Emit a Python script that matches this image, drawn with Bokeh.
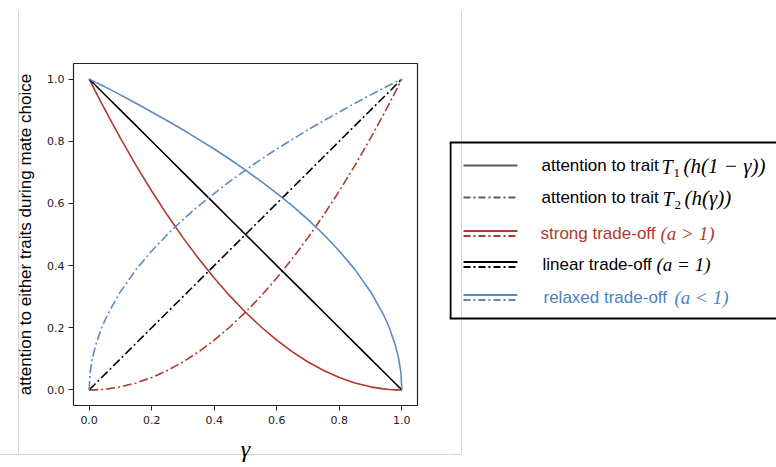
from bokeh.plotting import figure
from bokeh.layouts import row
from bokeh.models import Range1d, FixedTicker, ColumnDataSource
from bokeh.core.properties import value
from bokeh.embed import file_html
from bokeh.resources import INLINE

# ---- data ----
gamma = [0, 0.003, 0.01, 0.02, 0.04, 0.06, 0.1, 0.15, 0.2, 0.25, 0.3, 0.35, 0.4, 0.45, 0.5,
         0.55, 0.6, 0.65, 0.7, 0.75, 0.8, 0.85, 0.9, 0.94, 0.96, 0.98, 0.99, 0.997, 1.0]

strong_t1 = [1.0, 0.994, 0.9801, 0.9604, 0.9216, 0.8836, 0.81, 0.7225, 0.64, 0.5625, 0.49, 0.4225,
             0.36, 0.3025, 0.25, 0.2025, 0.16, 0.1225, 0.09, 0.0625, 0.04, 0.0225, 0.01, 0.0036,
             0.0016, 0.0004, 0.0001, 0.0, 0.0]
strong_t2 = [0.0, 0.0, 0.0001, 0.0004, 0.0016, 0.0036, 0.01, 0.0225, 0.04, 0.0625, 0.09, 0.1225,
             0.16, 0.2025, 0.25, 0.3025, 0.36, 0.4225, 0.49, 0.5625, 0.64, 0.7225, 0.81, 0.8836,
             0.9216, 0.9604, 0.9801, 0.994, 1.0]
linear_t1 = [1.0, 0.997, 0.99, 0.98, 0.96, 0.94, 0.9, 0.85, 0.8, 0.75, 0.7, 0.65, 0.6, 0.55, 0.5,
             0.45, 0.4, 0.35, 0.3, 0.25, 0.2, 0.15, 0.1, 0.06, 0.04, 0.02, 0.01, 0.003, 0.0]
linear_t2 = [0.0, 0.003, 0.01, 0.02, 0.04, 0.06, 0.1, 0.15, 0.2, 0.25, 0.3, 0.35, 0.4, 0.45, 0.5,
             0.55, 0.6, 0.65, 0.7, 0.75, 0.8, 0.85, 0.9, 0.94, 0.96, 0.98, 0.99, 0.997, 1.0]
relaxed_t1 = [1.0, 0.9985, 0.995, 0.99, 0.98, 0.97, 0.949, 0.922, 0.894, 0.866, 0.837, 0.806,
              0.775, 0.742, 0.707, 0.671, 0.632, 0.592, 0.548, 0.5, 0.447, 0.387, 0.316, 0.245,
              0.2, 0.141, 0.1, 0.055, 0.0]
relaxed_t2 = [0.0, 0.055, 0.1, 0.141, 0.2, 0.245, 0.316, 0.387, 0.447, 0.5, 0.548, 0.592, 0.632,
              0.671, 0.707, 0.742, 0.775, 0.806, 0.837, 0.866, 0.894, 0.922, 0.949, 0.97, 0.98,
              0.99, 0.995, 0.9985, 1.0]

tick_vals = [0.0, 0.2, 0.4, 0.6, 0.8, 1.0]
tick_labels = ["0.0", "0.2", "0.4", "0.6", "0.8", "1.0"]

legend_labels = ["attention to trait ", "attention to trait ", "strong trade-off ",
                 "linear trade-off ", "relaxed trade-off "]
legend_math = ["(h(1 − γ))", "(h(γ))", "(a > 1)", "(a = 1)", "(a < 1)"]

RED = "#b0392d"
BLUE = "#5b8bc3"
BLACK = "#000000"
GRAY = "#5a5a5a"
LEG_BLUE = "#4a82c0"
FAINT = "#d4d4d4"
DASHDOT = "9 3 2 3"
SANS = "Liberation Sans"
SERIF = "Liberation Serif"

# ---- main plot ----
p = figure(width=449, height=466, output_backend="svg", toolbar_location=None,
           x_range=Range1d(-0.05, 1.05), y_range=Range1d(-0.05, 1.05),
           min_border_left=73, min_border_right=32, min_border_top=63, min_border_bottom=61,
           frame_align=False,
           styles={"background": f"linear-gradient({FAINT},{FAINT}) 18px 11px / 1px 444px no-repeat, "
                                 f"linear-gradient({FAINT},{FAINT}) 0px 454px / 449px 1px no-repeat"})
p.border_fill_alpha = 0
p.grid.visible = False
p.outline_line_color = "#222222"
p.outline_line_width = 1.2

src = ColumnDataSource(dict(g=gamma, s1=strong_t1, s2=strong_t2, l1=linear_t1, l2=linear_t2,
                            r1=relaxed_t1, r2=relaxed_t2))
p.line("g", "s1", source=src, color=RED, line_width=1.6)
p.line("g", "s2", source=src, color=RED, line_width=1.6, line_dash=DASHDOT)
p.line("g", "l1", source=src, color=BLACK, line_width=1.6)
p.line("g", "l2", source=src, color=BLACK, line_width=1.6, line_dash=DASHDOT)
p.line("g", "r1", source=src, color=BLUE, line_width=1.6)
p.line("g", "r2", source=src, color=BLUE, line_width=1.6, line_dash=DASHDOT)

for ax in (p.xaxis[0], p.yaxis[0]):
    ax.ticker = FixedTicker(ticks=tick_vals)
    ax.major_label_overrides = {v: l for v, l in zip(tick_vals, tick_labels)}
    ax.axis_line_color = None
    ax.major_tick_line_color = "#222222"
    ax.major_tick_in = 0
    ax.major_tick_out = 5
    ax.minor_tick_line_color = None
    ax.major_label_text_font = "DejaVu Sans"
    ax.major_label_text_font_size = "11px"
    ax.major_label_text_color = "#222222"

p.xaxis.major_label_standoff = 5
p.yaxis.major_label_standoff = 4
p.xaxis.axis_label = "γ"
p.xaxis.axis_label_text_font = SERIF
p.xaxis.axis_label_text_font_style = "italic"
p.xaxis.axis_label_text_font_size = "24px"
p.xaxis.axis_label_standoff = 9
p.xaxis.axis_label_text_color = "#000000"
p.yaxis.axis_label = "attention to either traits during mate choice"
p.yaxis.axis_label_text_font = SANS
p.yaxis.axis_label_text_font_style = "normal"
p.yaxis.axis_label_text_font_size = "17px"
p.yaxis.axis_label_standoff = 9
p.yaxis.axis_label_text_color = "#000000"

# ---- legend panel (coordinates: x = page x - 449, y = page y) ----
lg = figure(width=327, height=466, output_backend="svg", toolbar_location=None,
            x_range=Range1d(0, 327), y_range=Range1d(466, 0),
            min_border_left=0, min_border_right=0, min_border_top=0, min_border_bottom=0,
            frame_align=False)
lg.axis.visible = False
lg.grid.visible = False
lg.outline_line_color = None

lg.segment(x0=[12, 0], y0=[11, 454], x1=[12, 12], y1=[454, 454], color=FAINT, line_width=1)
# legend box: left, top and bottom edges (right edge runs off the page)
lg.segment(x0=[1, 0, 0], y0=[142, 142, 318], x1=[1, 330, 330], y1=[318, 142, 318],
           color="#000000", line_width=2)

rows_y = [165, 197, 233, 264, 297]
sx0, sx1 = 14, 68
lg.line([sx0, sx1], [rows_y[0], rows_y[0]], color=GRAY, line_width=2)
lg.line([sx0, sx1], [rows_y[1], rows_y[1]], color=GRAY, line_width=2, line_dash="7 3 2 3")
for yy, c in zip(rows_y[2:], [RED, BLACK, BLUE]):
    lg.line([sx0, sx1], [yy - 2.5, yy - 2.5], color=c, line_width=2)
    lg.line([sx0, sx1], [yy + 2.5, yy + 2.5], color=c, line_width=2, line_dash="7 3 2 3")

text_colors = [BLACK, BLACK, RED, BLACK, LEG_BLUE]
text_x = [92, 92, 91, 93, 94]
lg.text(x=text_x, y=rows_y, text=legend_labels, text_color=text_colors,
        text_font=value(SANS), text_font_size="17px", text_baseline="middle")

tx = [212, 213]
lg.text(x=tx, y=[rows_y[0] + 1, rows_y[1] + 1], text=["T", "T"], text_font=value(SERIF),
        text_font_style="italic", text_font_size="20px", text_baseline="middle", text_color=BLACK)
lg.text(x=[t + 12 for t in tx], y=[rows_y[0] + 7, rows_y[1] + 7], text=["1", "2"],
        text_font=value(SERIF), text_font_size="13px", text_baseline="middle", text_color=BLACK)
lg.text(x=[234, 235], y=[rows_y[0], rows_y[1]], text=legend_math[:2], text_font=value(SERIF),
        text_font_style="italic", text_font_size="21px", text_baseline="middle", text_color=BLACK)
lg.text(x=[211, 207, 225], y=rows_y[2:], text=legend_math[2:], text_font=value(SERIF),
        text_font_style="italic", text_font_size="19px", text_baseline="middle",
        text_color=[RED, BLACK, LEG_BLUE])

layout = row(p, lg)
open("out.html", "w").write(file_html(layout, INLINE))
